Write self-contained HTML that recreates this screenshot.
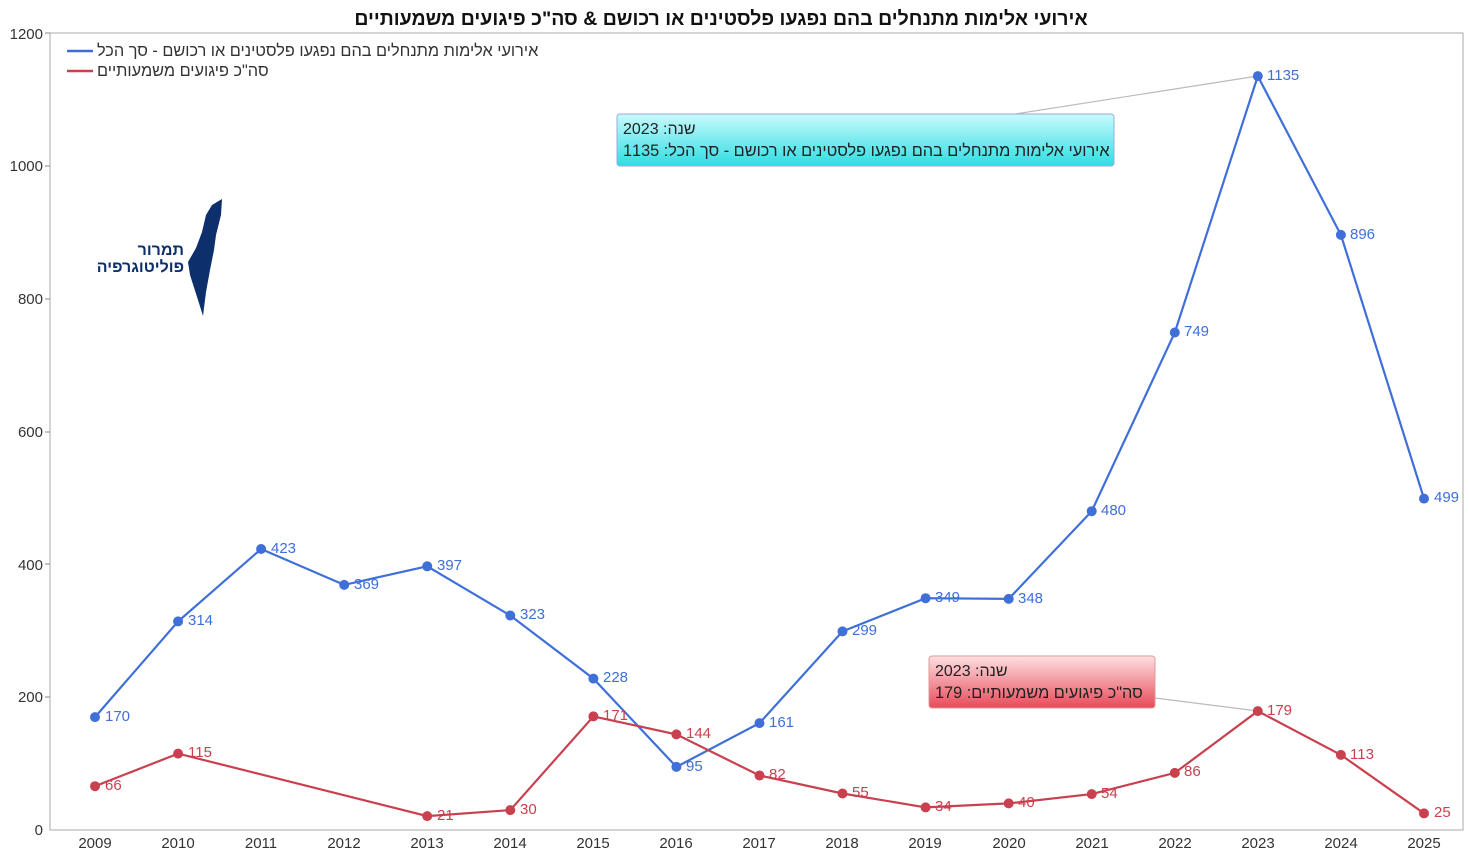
<!DOCTYPE html>
<html><head><meta charset="utf-8"><style>
html,body{margin:0;padding:0;background:#fff}
svg{display:block}
text{font-family:"Liberation Sans","DejaVu Sans",sans-serif}
</style></head><body>
<svg width="1469" height="861" viewBox="0 0 1469 861" xmlns="http://www.w3.org/2000/svg">
<defs>
<linearGradient id="cy" x1="0" y1="0" x2="0" y2="1"><stop offset="0" stop-color="#c8fafc"/><stop offset="1" stop-color="#2fdde3"/></linearGradient>
<linearGradient id="rd" x1="0" y1="0" x2="0" y2="1"><stop offset="0" stop-color="#fde0e2"/><stop offset="1" stop-color="#e84a58"/></linearGradient>
</defs>
<rect width="1469" height="861" fill="#fff"/>
<text x="721" y="25" font-size="19.5" font-weight="bold" text-anchor="middle" fill="#111" direction="rtl">אירועי אלימות מתנחלים בהם נפגעו פלסטינים או רכושם &amp; סה"כ פיגועים משמעותיים</text>
<rect x="50" y="33" width="1413" height="797" fill="none" stroke="#aaa" stroke-width="1"/>
<g font-size="15" fill="#333" text-anchor="end">
<text x="43" y="39">1200</text><text x="43" y="171">1000</text><text x="43" y="304">800</text><text x="43" y="437">600</text><text x="43" y="570">400</text><text x="43" y="702">200</text><text x="43" y="835">0</text>
</g>
<g stroke="#888"><line x1="45" y1="33" x2="50" y2="33"/><line x1="45" y1="166" x2="50" y2="166"/><line x1="45" y1="299" x2="50" y2="299"/><line x1="45" y1="432" x2="50" y2="432"/><line x1="45" y1="564" x2="50" y2="564"/><line x1="45" y1="697" x2="50" y2="697"/></g>
<g font-size="15" fill="#333" text-anchor="middle">
<text x="95" y="848">2009</text><text x="178" y="848">2010</text><text x="261" y="848">2011</text><text x="344" y="848">2012</text><text x="427" y="848">2013</text><text x="510" y="848">2014</text><text x="593" y="848">2015</text><text x="676" y="848">2016</text><text x="759" y="848">2017</text><text x="842" y="848">2018</text><text x="925" y="848">2019</text><text x="1009" y="848">2020</text><text x="1092" y="848">2021</text><text x="1175" y="848">2022</text><text x="1258" y="848">2023</text><text x="1341" y="848">2024</text><text x="1424" y="848">2025</text>
</g>
<!-- legend -->
<line x1="67" y1="51" x2="93" y2="51" stroke="#3f6fd8" stroke-width="2.5"/>
<text x="97" y="56" font-size="16.3" fill="#333">אירועי אלימות מתנחלים בהם נפגעו פלסטינים או רכושם - סך הכל</text>
<line x1="67" y1="71" x2="93" y2="71" stroke="#c9404f" stroke-width="2.5"/>
<text x="97" y="76" font-size="16.3" fill="#333">סה"כ פיגועים משמעותיים</text>
<!-- logo -->
<path d="M212 205 L222 199 L221 215 L216 235 L214 250 L210 270 L206 292 L203 316 L198 300 L190 275 L188 262 L196 248 L202 232 L206 215 Z" fill="#0d2f6b"/>
<text x="184" y="255" font-size="16" font-weight="bold" fill="#0d2f6b" text-anchor="end">תמרור</text>
<text x="184" y="272" font-size="16" font-weight="bold" fill="#0d2f6b" text-anchor="end">פוליטוגרפיה</text>
<!-- connector lines -->
<line x1="1257.8" y1="76" x2="1015" y2="114" stroke="#bbb" stroke-width="1.2"/>
<line x1="1257.8" y1="711" x2="1155" y2="698" stroke="#bbb" stroke-width="1.2"/>
<!-- series -->
<polyline fill="none" stroke="#3f6fd8" stroke-width="2.2" points="95,717.1 178.1,621.4 261.1,549 344.2,584.9 427.2,566.3 510.3,615.5 593.4,678.6 676.4,766.9 759.5,723.1 842.5,631.4 925.6,598.2 1008.7,598.9 1091.7,511.2 1174.8,332.5 1257.8,76.1 1340.9,234.9 1424,498.6"/>
<polyline fill="none" stroke="#c9404f" stroke-width="2.2" points="95,786.2 178.1,753.6 427.2,816.1 510.3,810.1 593.4,716.4 676.4,734.4 759.5,775.5 842.5,793.5 925.6,807.4 1008.7,803.4 1091.7,794.1 1174.8,772.9 1257.8,711.1 1340.9,754.9 1424,813.4"/>
<g fill="#3f6fd8">
<circle cx="95" cy="717.1" r="5"/><circle cx="178.1" cy="621.4" r="5"/><circle cx="261.1" cy="549" r="5"/><circle cx="344.2" cy="584.9" r="5"/><circle cx="427.2" cy="566.3" r="5"/><circle cx="510.3" cy="615.5" r="5"/><circle cx="593.4" cy="678.6" r="5"/><circle cx="676.4" cy="766.9" r="5"/><circle cx="759.5" cy="723.1" r="5"/><circle cx="842.5" cy="631.4" r="5"/><circle cx="925.6" cy="598.2" r="5"/><circle cx="1008.7" cy="598.9" r="5"/><circle cx="1091.7" cy="511.2" r="5"/><circle cx="1174.8" cy="332.5" r="5"/><circle cx="1257.8" cy="76.1" r="5"/><circle cx="1340.9" cy="234.9" r="5"/><circle cx="1424" cy="498.6" r="5"/>
</g>
<g fill="#c9404f">
<circle cx="95" cy="786.2" r="5"/><circle cx="178.1" cy="753.6" r="5"/><circle cx="427.2" cy="816.1" r="5"/><circle cx="510.3" cy="810.1" r="5"/><circle cx="593.4" cy="716.4" r="5"/><circle cx="676.4" cy="734.4" r="5"/><circle cx="759.5" cy="775.5" r="5"/><circle cx="842.5" cy="793.5" r="5"/><circle cx="925.6" cy="807.4" r="5"/><circle cx="1008.7" cy="803.4" r="5"/><circle cx="1091.7" cy="794.1" r="5"/><circle cx="1174.8" cy="772.9" r="5"/><circle cx="1257.8" cy="711.1" r="5"/><circle cx="1340.9" cy="754.9" r="5"/><circle cx="1424" cy="813.4" r="5"/>
</g>
<g font-size="15" fill="#3f6fd8">
<text x="105" y="721">170</text><text x="188" y="625">314</text><text x="271" y="553">423</text><text x="354" y="589">369</text><text x="437" y="570">397</text><text x="520" y="619">323</text><text x="603" y="682">228</text><text x="686" y="771">95</text><text x="769" y="727">161</text><text x="852" y="635">299</text><text x="935" y="602">349</text><text x="1018" y="603">348</text><text x="1101" y="515">480</text><text x="1184" y="336">749</text><text x="1267" y="80">1135</text><text x="1350" y="239">896</text><text x="1434" y="502">499</text>
</g>
<g font-size="15" fill="#c9404f">
<text x="105" y="790">66</text><text x="188" y="757">115</text><text x="437" y="820">21</text><text x="520" y="814">30</text><text x="603" y="720">171</text><text x="686" y="738">144</text><text x="769" y="779">82</text><text x="852" y="797">55</text><text x="935" y="811">34</text><text x="1018" y="807">40</text><text x="1101" y="798">54</text><text x="1184" y="776">86</text><text x="1267" y="715">179</text><text x="1350" y="759">113</text><text x="1434" y="817">25</text>
</g>
<!-- tooltips -->
<rect x="617" y="114" width="497" height="52" rx="3" fill="url(#cy)" stroke="#9ad" stroke-width="1"/>
<text x="623" y="134" font-size="16" fill="#222">2023 :שנה</text>
<text x="623" y="156" font-size="16.3" fill="#222">1135 :אירועי אלימות מתנחלים בהם נפגעו פלסטינים או רכושם - סך הכל</text>
<rect x="929" y="656" width="226" height="52" rx="3" fill="url(#rd)" stroke="#d99" stroke-width="1"/>
<text x="935" y="676" font-size="16" fill="#222">2023 :שנה</text>
<text x="935" y="698" font-size="16.3" fill="#222">179 :סה"כ פיגועים משמעותיים</text>
</svg>
</body></html>
